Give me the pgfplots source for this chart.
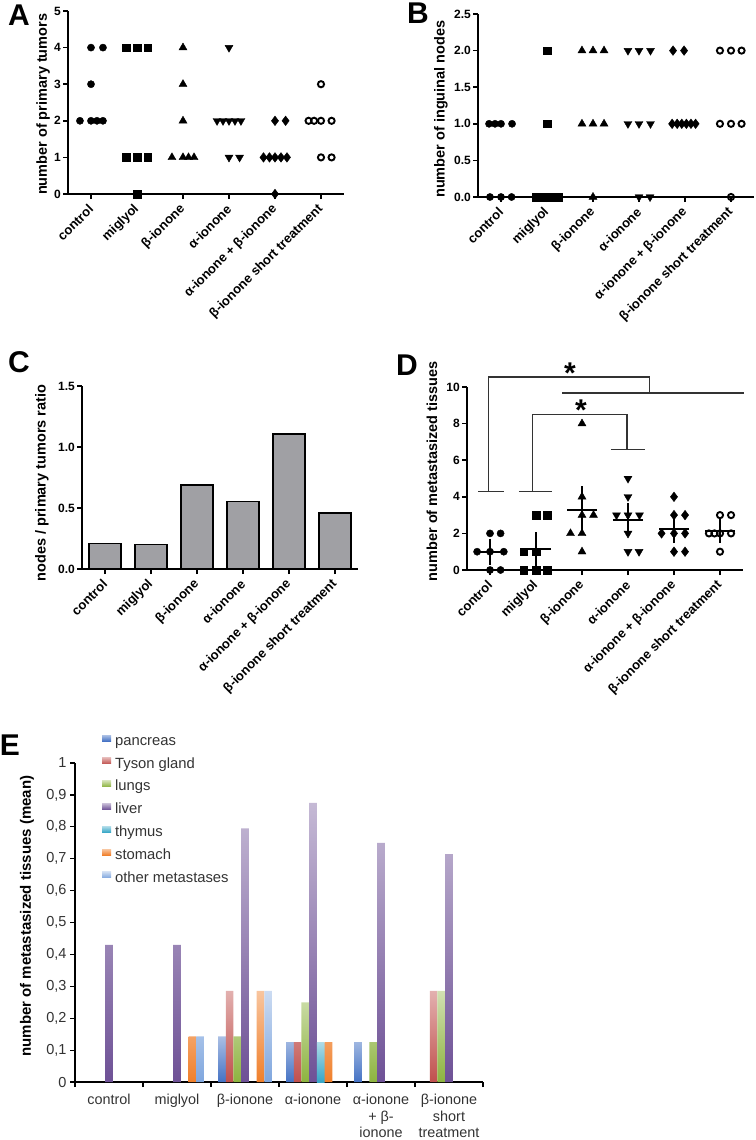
\documentclass[border=0pt]{standalone}
\usepackage{fontspec}
\setmainfont{Liberation Sans}
\usepackage{pgfplots}
\pgfplotsset{compat=1.18}
\definecolor{cpan}{HTML}{4472C4}
\definecolor{ctys}{HTML}{C0504D}
\definecolor{clun}{HTML}{8DB33F}
\definecolor{cliv}{HTML}{6E5196}
\definecolor{cthy}{HTML}{36A6C6}
\definecolor{csto}{HTML}{F07F2A}
\definecolor{coth}{HTML}{7FA6DE}
\definecolor{cbar}{RGB}{160,160,164}
\pgfplotsset{
  prism/.style={
    scale only axis, anchor=south west, width=276pt, height=183pt,
    axis lines=left, axis line style={-, line width=1.6pt, black},
    xmin=-0.5, xmax=5.5, ymin=0, enlargelimits=false, clip=false,
    tick align=outside, major tick length=5pt,
    tick style={line width=1.6pt, black},
    xtick={0,1,2,3,4,5},
    xticklabels={control,miglyol,β-ionone,α-ionone,α-ionone + β-ionone,β-ionone short treatment},
    xticklabel style={rotate=45, anchor=east, font=\bfseries\fontsize{13}{15}\selectfont, inner sep=0pt},
    xticklabel shift=8pt,
    yticklabel style={font=\bfseries\fontsize{12}{13}\selectfont, inner sep=2pt},
    /pgf/number format/assume math mode=true,
  },
  mctrl/.style={only marks, black, mark=*, mark size=3.6pt},
  mmig/.style={only marks, black, mark=square*, mark size=3.8pt},
  mbeta/.style={only marks, black, mark=triangle*, mark size=4.6pt},
  malpha/.style={only marks, black, mark=triangle*, mark size=4.6pt, mark options={rotate=180}},
  mab/.style={only marks, black, mark=diamond*, mark size=4.8pt},
  mshort/.style={only marks, black, mark=o, mark size=3.1pt, mark options={line width=1.9pt}},
}
\begin{document}
\begin{tikzpicture}[x=1pt,y=1pt]
\useasboundingbox (0,0) rectangle (755,-1140);

% ---------------- Panel A
\begin{axis}[prism, at={(68pt,-194pt)}, ymax=5, ytick={0,1,2,3,4,5}]
\addplot[mctrl] coordinates {(0,4) (0.26,4) (0,3) (-0.24,2) (0,2) (0.13,2) (0.26,2)};
\addplot[mmig] coordinates {(0.76,4) (1,4) (1.23,4) (0.76,1) (1,1) (1.23,1) (1,0)};
\addplot[mbeta] coordinates {(2,4) (2,3) (2,2) (1.76,1) (2,1) (2.12,1) (2.24,1)};
\addplot[malpha] coordinates {(3,4) (2.74,2) (2.87,2) (3,2) (3.13,2) (3.26,2) (3,1) (3.23,1)};
\addplot[mab] coordinates {(4,2) (4.23,2) (3.75,1) (3.88,1) (4,1) (4.13,1) (4.26,1) (4,0)};
\addplot[mshort] coordinates {(5,3) (4.73,2) (4.85,2) (5,2) (5.23,2) (5,1) (5.23,1)};
\node[rotate=90, font=\bfseries\fontsize{14.5}{16}\selectfont] at (axis description cs:-0.09,0.49) {number of primary tumors};
\end{axis}
\node[font=\bfseries\fontsize{30}{30}\selectfont] at (19pt,-15pt) {A};

% ---------------- Panel B
\begin{axis}[prism, at={(478pt,-197pt)}, ymax=2.5, ytick={0,0.5,1,1.5,2,2.5},
  yticklabel style={/pgf/number format/.cd, fixed, fixed zerofill, precision=1}]
\addplot[mctrl] coordinates {(-0.26,1) (-0.13,1) (0,1) (0.24,1) (-0.24,0) (0,0) (0.23,0)};
\addplot[mmig] coordinates {(1,2) (1,1) (0.75,0) (0.88,0) (1,0) (1.12,0) (1.24,0)};
\addplot[mbeta] coordinates {(1.76,2) (2,2) (2.24,2) (1.76,1) (2,1) (2.24,1) (2,0)};
\addplot[malpha] coordinates {(2.76,2) (3,2) (3.25,2) (2.76,1) (3,1) (3.25,1) (3,0) (3.24,0)};
\addplot[mab] coordinates {(3.74,2) (3.98,2) (3.72,1) (3.83,1) (3.93,1) (4.03,1) (4.13,1) (4.23,1)};
\addplot[mshort] coordinates {(4.76,2) (5,2) (5.23,2) (4.76,1) (5,1) (5.23,1) (5,0)};
\node[rotate=90, font=\bfseries\fontsize{14.5}{16}\selectfont] at (axis description cs:-0.134,0.48) {number of inguinal nodes};
\end{axis}
\node[font=\bfseries\fontsize{30}{30}\selectfont] at (418pt,-13pt) {B};

% ---------------- Panel C
\begin{axis}[prism, at={(82pt,-569pt)}, ymax=1.5, ytick={0,0.5,1,1.5},
  yticklabel style={/pgf/number format/.cd, fixed, fixed zerofill, precision=1}]
\addplot[ybar, bar width=32pt, fill=cbar, draw=black, line width=1.5pt] coordinates {(0,0.21) (1,0.20) (2,0.69) (3,0.555) (4,1.105) (5,0.46)};
\node[rotate=90, font=\bfseries\fontsize{14.5}{16}\selectfont] at (axis description cs:-0.145,0.47) {nodes / primary tumors ratio};
\end{axis}
\node[font=\bfseries\fontsize{30}{30}\selectfont] at (19pt,-362pt) {C};

% ---------------- Panel D
\begin{axis}[prism, at={(467pt,-570pt)}, ymax=10, ytick={0,2,4,6,8,10}]
\addplot[mctrl] coordinates {(0,2) (0.23,2) (-0.28,1) (0,1) (0.3,1) (0,0) (0.23,0)};
\addplot[mmig] coordinates {(1,3) (1.24,3) (0.73,1) (1,1) (0.73,0) (1,0) (1.24,0)};
\addplot[mbeta] coordinates {(2,8) (2,4) (2,3) (2.25,3) (1.75,2) (2,2) (2,1)};
\addplot[malpha] coordinates {(3,5) (3,4) (2.75,3) (3,3) (3.25,3) (3,2) (3,1) (3.24,1)};
\addplot[mab] coordinates {(4,4) (4,3) (4.24,3) (3.73,2) (4,2) (4.24,2) (4,1) (4.24,1)};
\addplot[mshort] coordinates {(5,3) (5.24,3) (4.76,2) (4.88,2) (5,2) (5.24,2) (5,1)};
% mean +- SEM
\addplot[only marks, black, mark=-, mark size=15pt, mark options={line width=2pt},
  error bars/.cd, y dir=both, y explicit, error bar style={line width=1.8pt, black},
  error mark=-, error mark options={mark size=7.5pt, line width=1.8pt, black}]
  coordinates {(0,1.0) +- (0,0.31) (1,1.14) +- (0,0.51) (2,3.29) +- (0,0.87) (3,2.75) +- (0,0.49) (4,2.25) +- (0,0.37) (5,2.14) +- (0,0.26)};
% significance brackets
\addplot[black!80, line width=1.3pt, mark=none] coordinates {(-0.26,4.3) (0.3,4.3)};
\addplot[black!80, line width=1.3pt, mark=none] coordinates {(-0.04,4.3) (-0.04,10.55) (3.46,10.55) (3.46,9.67)};
\addplot[black!80, line width=1.3pt, mark=none] coordinates {(1.57,9.67) (5.52,9.67)};
\addplot[black!80, line width=1.3pt, mark=none] coordinates {(0.63,4.3) (1.35,4.3)};
\addplot[black!80, line width=1.3pt, mark=none] coordinates {(0.93,4.3) (0.93,8.5) (2.98,8.5) (2.98,6.6)};
\addplot[black!80, line width=1.3pt, mark=none] coordinates {(2.63,6.6) (3.37,6.6)};
\node[anchor=north, inner sep=0pt, font=\bfseries\fontsize{30}{30}\selectfont] at (axis cs:1.74,11.33) {*};
\node[anchor=north, inner sep=0pt, font=\bfseries\fontsize{30}{30}\selectfont] at (axis cs:1.98,9.29) {*};
\node[rotate=90, font=\bfseries\fontsize{14.5}{16}\selectfont] at (axis description cs:-0.127,0.54) {number of metastasized tissues};
\end{axis}
\node[font=\bfseries\fontsize{30}{30}\selectfont] at (407pt,-365pt) {D};

% ---------------- Panel E
\begin{axis}[at={(75pt,-1082pt)}, anchor=south west, scale only axis, width=408pt, height=319pt,
  xmin=0, xmax=6, ymin=0, ymax=1, enlargelimits=false, clip=false,
  axis lines=left, axis line style={-, line width=1.4pt, black},
  tick align=outside, major tick length=5pt, tick style={line width=1.2pt, black},
  xtick={0,1,2,3,4,5,6}, xticklabels={},
  extra x ticks={0.5,1.5,2.5,3.5,4.5,5.5},
  extra x tick labels={control,miglyol,β-ionone,α-ionone,{α-ionone\\+ β-\\ionone},{β-ionone\\short\\treatment}},
  extra x tick style={major tick length=0pt, xticklabel style={align=center, anchor=north, inner sep=0pt, font=\fontsize{14.4}{16.5}\selectfont, text=black!80}, xticklabel shift=12pt},
  ytick={0,0.1,0.2,0.3,0.4,0.5,0.6,0.7,0.8,0.9,1},
  /pgf/number format/use comma, /pgf/number format/assume math mode=true,
  yticklabel style={font=\fontsize{14.5}{16}\selectfont, text=black!80},
  ybar=0pt, bar width=7.7pt,
  legend style={at={(axis description cs:0.066,1.09)}, anchor=north west, draw=none, fill=none,
    font=\fontsize{14.8}{16}\selectfont, text=black!80, row sep=8.6pt, inner sep=0pt,
    nodes={inner sep=0pt, text height=10.7pt, text depth=3.5pt},
    /tikz/every odd column/.append style={column sep=4pt}},
  legend cell align=left,
  legend image code/.code={\draw[#1, draw=none] (0pt,0.5pt) rectangle (9pt,6.5pt);},
]
\addplot[draw=none, top color=cpan!45!white, bottom color=cpan] coordinates {(2.5,0.143) (3.5,0.125) (4.5,0.125)};
\addplot[draw=none, top color=ctys!45!white, bottom color=ctys] coordinates {(2.5,0.286) (3.5,0.125) (5.5,0.286)};
\addplot[draw=none, top color=clun!40!white, bottom color=clun] coordinates {(2.5,0.143) (3.5,0.25) (4.5,0.125) (5.5,0.286)};
\addplot[draw=none, top color=cliv!40!white, bottom color=cliv] coordinates {(0.5,0.43) (1.5,0.43) (2.5,0.795) (3.5,0.875) (4.5,0.75) (5.5,0.714)};
\addplot[draw=none, top color=cthy!40!white, bottom color=cthy] coordinates {(3.5,0.125)};
\addplot[draw=none, top color=csto!45!white, bottom color=csto] coordinates {(1.5,0.143) (2.5,0.286) (3.5,0.125)};
\addplot[draw=none, top color=coth!40!white, bottom color=coth] coordinates {(1.5,0.143) (2.5,0.286)};
\legend{pancreas,Tyson gland,lungs,liver,thymus,stomach,other metastases}
\node[rotate=90, font=\bfseries\fontsize{15}{16}\selectfont] at (axis description cs:-0.1176,0.52) {number of metastasized tissues (mean)};
\end{axis}
\node[font=\bfseries\fontsize{30}{30}\selectfont] at (10pt,-745pt) {E};
\end{tikzpicture}
\end{document}
